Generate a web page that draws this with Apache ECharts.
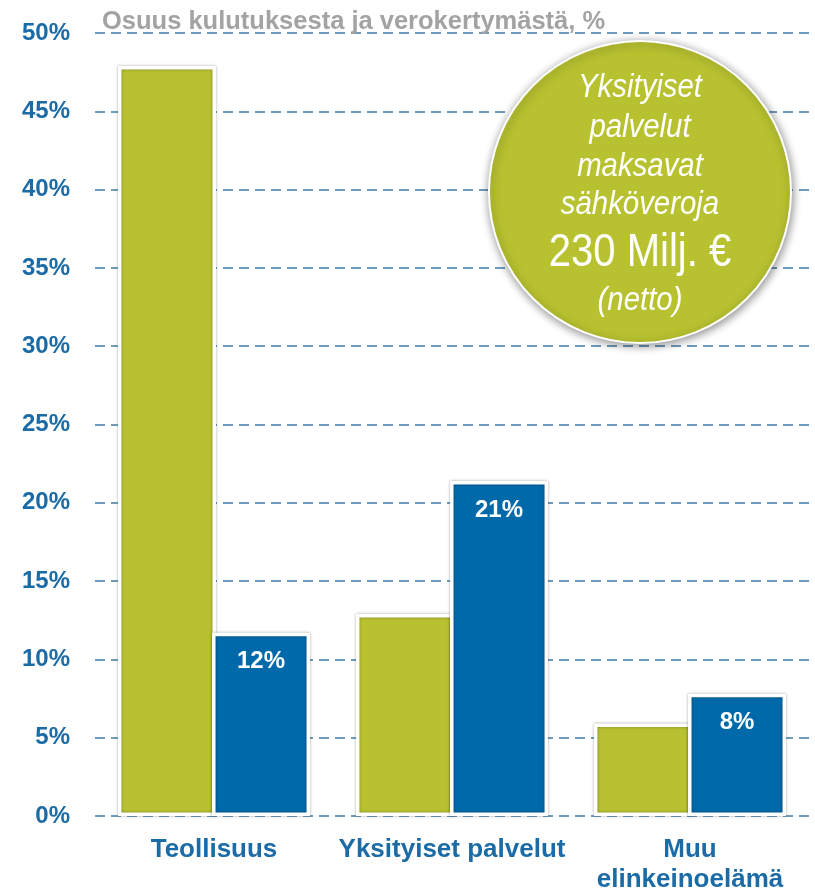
<!DOCTYPE html>
<html>
<head>
<meta charset="utf-8">
<script src="https://cdn.jsdelivr.net/npm/echarts@6/dist/echarts.min.js"></script>
<style>html,body{margin:0;padding:0;background:#fff;}#c{width:815px;height:895px;}</style>
</head>
<body>
<div id="c"></div>
<script>
const categories = ['Teollisuus', 'Yksityiset palvelut', 'Muu\nelinkeinoelämä'];
const consumptionShare = [47.9, 12.9, 5.9];
const taxShare = [11.7, 21.4, 7.8];
const taxLabels = ['12%', '21%', '8%'];
const yTicks = [0, 5, 10, 15, 20, 25, 30, 35, 40, 45, 50];
const titleText = 'Osuus kulutuksesta ja verokertymästä, %';
const bubbleLines = ['Yksityiset', 'palvelut', 'maksavat', 'sähköveroja', '230 Milj. €', '(netto)'];

const GREEN = '#B8C230', BLUE = '#0069A9', AXIS = '#1A6BA6';
const chart = echarts.init(document.getElementById('c'), null, {renderer: 'canvas'});

const barStyle = c => ({color: c, borderColor: '#fff', borderWidth: 3.5, shadowColor: 'rgba(0,0,0,0.35)', shadowBlur: 3});

const bubbleFonts = [
  {size: 33, style: 'italic', y: 88, sx: 0.89},
  {size: 33, style: 'italic', y: 128, sx: 0.89},
  {size: 33, style: 'italic', y: 167, sx: 0.89},
  {size: 33, style: 'italic', y: 205, sx: 0.89},
  {size: 46, style: 'normal', y: 253, sx: 0.87},
  {size: 33, style: 'italic', y: 301, sx: 0.89}
];
const BFONT = '"Liberation Sans", Arial, sans-serif';

chart.setOption({
  animation: false,
  grid: {left: 95, right: 6, top: 33, bottom: 77, containLabel: false},
  title: {
    text: titleText, left: 97, top: 4,
    textStyle: {color: '#A3A3A3', fontSize: 25.5, fontWeight: 'bold', fontFamily: 'Liberation Sans, Arial, sans-serif'}
  },
  xAxis: {
    type: 'category', data: categories,
    axisLine: {show: false}, axisTick: {show: false},
    axisLabel: {color: AXIS, fontSize: 26, fontWeight: 'bold', fontFamily: 'Liberation Sans, Arial, sans-serif', lineHeight: 30, margin: 19, interval: 0}
  },
  yAxis: {
    type: 'value', min: yTicks[0], max: yTicks[yTicks.length - 1], interval: 5,
    axisLine: {show: false}, axisTick: {show: false},
    axisLabel: {color: AXIS, fontSize: 24, fontWeight: 'bold', fontFamily: 'Liberation Sans, Arial, sans-serif', margin: 25, padding: [4, 0, 0, 0], formatter: v => v + '%'},
    splitLine: {lineStyle: {color: '#3F7BA7', width: 1.5, type: [10, 6]}}
  },
  series: [
    {type: 'bar', data: consumptionShare, barWidth: 98, barGap: '-4%', itemStyle: barStyle(GREEN), z: 2},
    {type: 'bar', data: taxShare, barWidth: 98, barGap: '-4%', itemStyle: barStyle(BLUE), z: 3,
     label: {show: true, position: 'insideTop', distance: 17, color: '#fff', fontSize: 24, fontWeight: 'bold', fontFamily: 'Liberation Sans, Arial, sans-serif',
       formatter: p => taxLabels[p.dataIndex]}}
  ],
  graphic: [
    {type: 'circle', shape: {cx: 640, cy: 192, r: 151}, z: 10,
     style: {fill: GREEN, stroke: '#fff', lineWidth: 2, shadowBlur: 10, shadowColor: 'rgba(0,0,0,0.45)', shadowOffsetX: 1, shadowOffsetY: 2}}
  ].concat(bubbleLines.map((t, i) => ({
    type: 'text', z: 11, x: 640, y: bubbleFonts[i].y, scaleX: bubbleFonts[i].sx,
    style: {text: t, fill: '#fff', align: 'center', verticalAlign: 'middle',
      font: bubbleFonts[i].style + ' ' + bubbleFonts[i].size + 'px ' + BFONT}
  })))
});
</script>
</body>
</html>
